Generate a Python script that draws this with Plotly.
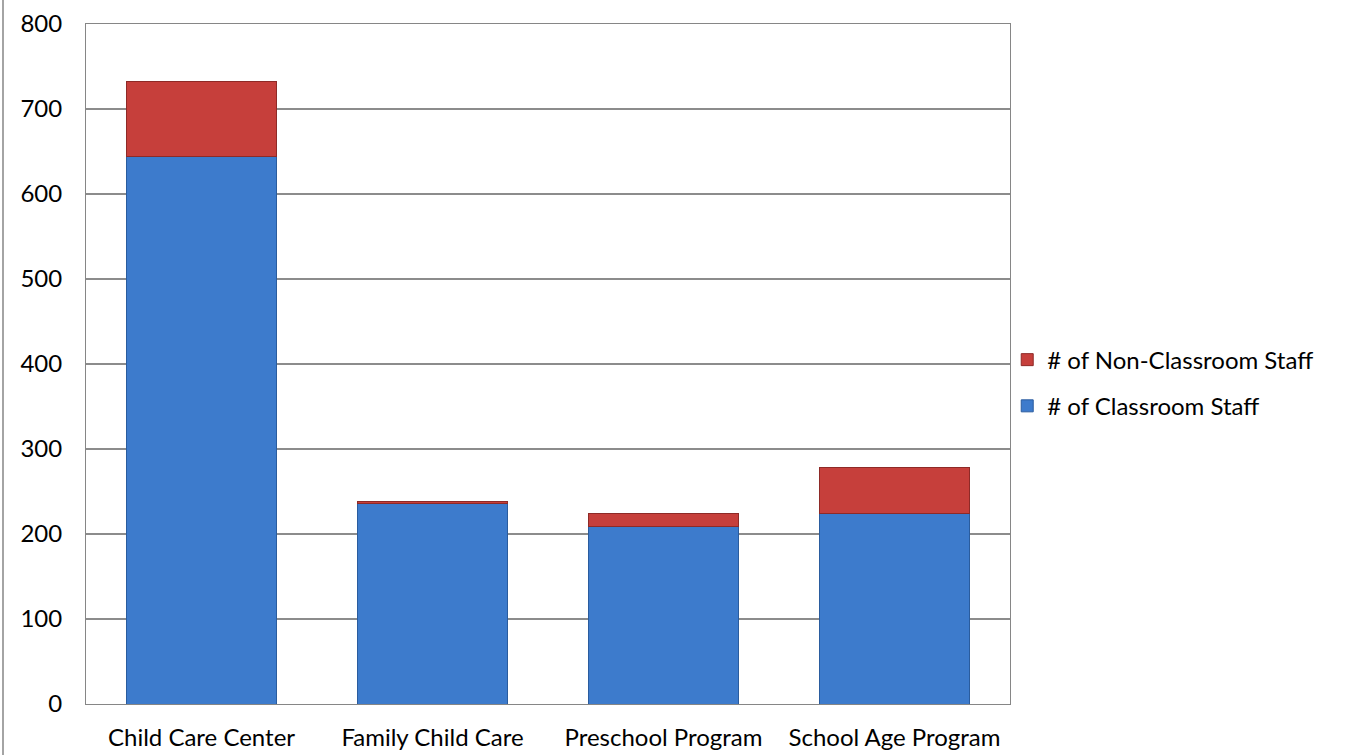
import plotly.graph_objects as go

categories = ["Child Care Center", "Family Child Care", "Preschool Program", "School Age Program"]
classroom_staff = [644, 236, 209, 224]
non_classroom_staff = [88, 2, 15, 54]
y_ticks = [0, 100, 200, 300, 400, 500, 600, 700, 800]

FONT = "Lato, 'Open Sans', Arial, sans-serif"

fig = go.Figure()
fig.add_trace(go.Bar(
    x=categories, y=classroom_staff, name="# of Classroom Staff",
    marker=dict(color="#3D7BCC", line=dict(color="#2A5C9E", width=1)),
    legendgroup="b", legendrank=2,
))
fig.add_trace(go.Bar(
    x=categories, y=non_classroom_staff, name="# of Non-Classroom Staff",
    marker=dict(color="#C63F3B", line=dict(color="#8E2A27", width=1)),
    legendgroup="a", legendrank=1,
))

fig.update_layout(
    barmode="stack",
    bargap=0.35,
    width=1358, height=755,
    margin=dict(l=86, r=348, t=24, b=51, autoexpand=False),
    paper_bgcolor="white", plot_bgcolor="white",
    font=dict(family=FONT, size=24, color="#000000"),
    legend=dict(
        x=0.997, y=0.472, xanchor="left", yanchor="middle",
        traceorder="grouped", tracegroupgap=12,
        font=dict(size=24), bgcolor="rgba(0,0,0,0)",
        itemwidth=30,
    ),
    xaxis=dict(
        showgrid=False, showline=True, linecolor="#868686", linewidth=1,
        mirror=True, ticks="outside", ticklen=12, tickcolor="rgba(0,0,0,0)",
        tickfont=dict(size=24), automargin=False,
    ),
    yaxis=dict(
        range=[0, 800], tickvals=y_ticks, showgrid=True, gridcolor="#8C8C8C",
        gridwidth=1.5, showline=True, linecolor="#868686", linewidth=1, mirror=True,
        ticks="outside", ticklen=18, tickcolor="rgba(0,0,0,0)",
        tickfont=dict(size=24), zeroline=False, automargin=False,
    ),
    shapes=[dict(
        type="line", xref="paper", yref="paper",
        x0=(3 - 86) / 924, x1=(3 - 86) / 924, y0=-51 / 680, y1=(680 + 24) / 680,
        line=dict(color="#868686", width=1.5),
    )],
)

fig.write_html(
    "out.html",
    config={"displayModeBar": False},
    post_script="document.body.style.margin='0';document.body.style.overflow='hidden';",
)
